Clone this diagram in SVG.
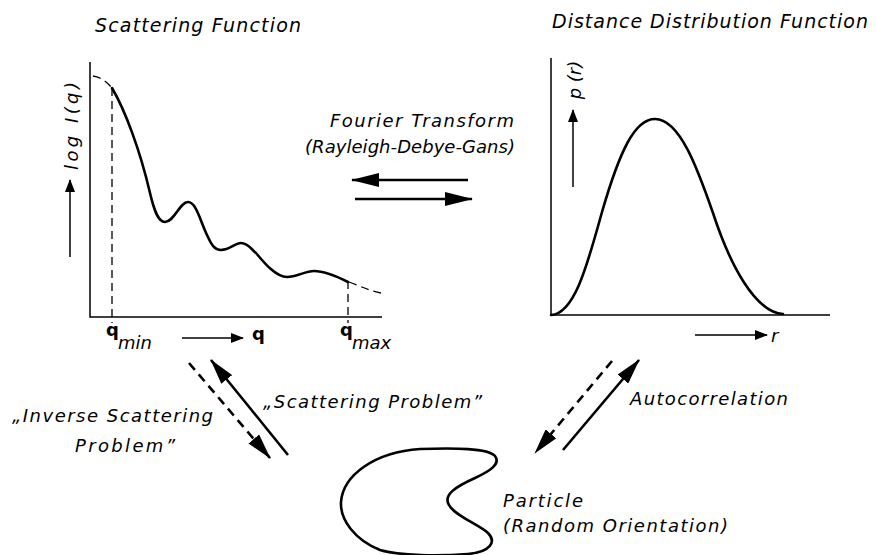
<svg xmlns="http://www.w3.org/2000/svg" width="876" height="555" viewBox="0 0 876 555">
<defs>
<style>
.t{font-family:"DejaVu Sans","Liberation Sans",sans-serif;font-style:italic;font-size:18px;fill:#000}
.ti{font-size:19px}
.b{font-family:"DejaVu Sans","Liberation Sans",sans-serif;font-weight:bold;font-size:18px;fill:#000}
.ax{stroke:#000;stroke-width:1.5;fill:none}
.cv{stroke:#000;stroke-width:2.6;fill:none;stroke-linecap:round;stroke-linejoin:round}
.ds{stroke:#000;stroke-width:1.3;fill:none;stroke-dasharray:8 5}
.arr{stroke:#000;stroke-width:2.6;fill:none}
.arrd{stroke:#000;stroke-width:2.6;fill:none;stroke-dasharray:9 6}
.sa{stroke:#000;stroke-width:1.5;fill:none}
</style>
<marker id="big" markerUnits="userSpaceOnUse" markerWidth="28" markerHeight="14" refX="27" refY="7" orient="auto">
<path d="M0,0 L28,7 L0,14 Z" fill="#000"/>
</marker>
<marker id="diag" markerUnits="userSpaceOnUse" markerWidth="26" markerHeight="14" refX="25" refY="7" orient="auto">
<path d="M0,0 L26,7 L0,14 Z" fill="#000"/>
</marker>
<marker id="sm" markerUnits="userSpaceOnUse" markerWidth="13" markerHeight="10" refX="12" refY="5" orient="auto">
<path d="M0,0 L13,5 L0,10 Z" fill="#000"/>
</marker>
</defs>
<rect width="876" height="555" fill="#fff"/>

<g id="scattering-function">
<text class="t ti" x="95" y="32" textLength="206" lengthAdjust="spacing">Scattering Function</text>
<path class="ax" d="M90,62 L90,317 L382,317"/>
<line class="sa" x1="70" y1="257" x2="70" y2="180" marker-end="url(#sm)"/>
<text class="t" transform="rotate(-90 78 126)" x="78" y="126" text-anchor="middle" textLength="88" lengthAdjust="spacing">log I(q)</text>
<path class="ds" d="M93,76 C100,77 106,81 112,88"/>
<path class="ds" d="M349,282 C360,286 370,291 381,293"/>
<line class="ds" x1="112" y1="88" x2="112" y2="323"/>
<line class="ds" x1="348" y1="281" x2="348" y2="323"/>
<path class="cv" d="M112,88 C125,110 140,150 150,193 C154,210 158,222 165,222 C174,222 180,202 188,202 C196,202 200,220 207,235 C212,246 215,250 221,250 C230,250 235,243 241,243 C248,243 252,250 256,253 C262,260 275,277 287,277 C297,277 305,271 314,271 C325,271 338,277 348,282"/>
<text class="b" x="106" y="336">q</text>
<text class="t" x="118" y="349" font-size="16">min</text>
<line class="sa" x1="182" y1="338" x2="243" y2="338" marker-end="url(#sm)"/>
<text class="b" x="252" y="340">q</text>
<text class="b" x="340" y="336">q</text>
<text class="t" x="352" y="349" font-size="16">max</text>
</g>

<g id="distance-distribution-function">
<text class="t ti" x="552" y="28" textLength="316" lengthAdjust="spacing">Distance Distribution Function</text>
<path class="ax" d="M551,58 L551,315 L830,315"/>
<line class="sa" x1="573" y1="187" x2="573" y2="110" marker-end="url(#sm)"/>
<text class="t" transform="rotate(-90 581 80)" x="581" y="80" text-anchor="middle">p (r)</text>
<path class="cv" d="M551,315 C575,314 588,262 602,212 C620,150 635,119 655,119 C680,119 698,170 713,213 C730,265 755,312 783,314"/>
<line class="sa" x1="695" y1="335" x2="767" y2="335" marker-end="url(#sm)"/>
<text class="t" x="771" y="342" font-size="20">r</text>
</g>

<g id="particle">
<path class="cv" d="M420,449 C455,448 488,448 495,456 C501,464 490,471 475,478 C455,487 443,495 449,505 C455,516 478,524 488,533 C497,542 490,552 468,554 C440,556 400,556 380,550 C355,540 340,520 341,502 C343,475 375,452 420,449 Z"/>
<text class="t" x="503" y="507" textLength="80" lengthAdjust="spacing">Particle</text>
<text class="t" x="503" y="532" textLength="225" lengthAdjust="spacing">(Random Orientation)</text>
</g>

<g id="connectors">
<line class="arr" x1="468" y1="180" x2="352" y2="180" marker-end="url(#big)"/>
<line class="arr" x1="355" y1="199" x2="472" y2="199" marker-end="url(#big)"/>
<line class="arrd" x1="189" y1="363" x2="270" y2="458" marker-end="url(#diag)"/>
<line class="arr" x1="288" y1="455" x2="211" y2="360" marker-end="url(#diag)"/>
<line class="arrd" x1="612" y1="361" x2="535" y2="453" marker-end="url(#diag)"/>
<line class="arr" x1="563" y1="450" x2="639" y2="360" marker-end="url(#diag)"/>
</g>

<g id="labels">
<text class="t" x="330" y="127" textLength="184" lengthAdjust="spacing">Fourier Transform</text>
<text class="t" x="305" y="153" textLength="210" lengthAdjust="spacing">(Rayleigh-Debye-Gans)</text>
<text class="t" x="12" y="422" textLength="201" lengthAdjust="spacing">„Inverse Scattering</text>
<text class="t" x="75" y="452" textLength="100" lengthAdjust="spacing">Problem”</text>
<text class="t" x="263" y="408" textLength="219" lengthAdjust="spacing">„Scattering Problem”</text>
<text class="t" x="630" y="405" textLength="158" lengthAdjust="spacing">Autocorrelation</text>
</g>
</svg>
